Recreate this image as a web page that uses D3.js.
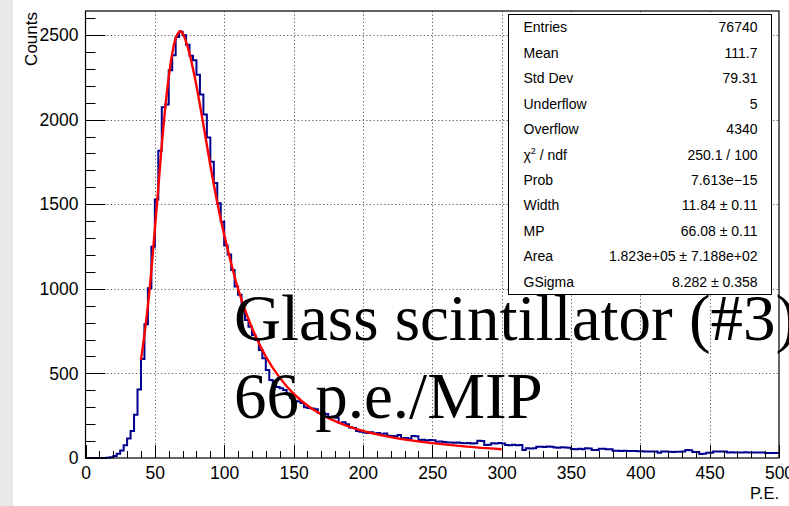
<!DOCTYPE html>
<html><head><meta charset="utf-8">
<script src="https://cdn.jsdelivr.net/npm/d3@7/dist/d3.min.js"></script>
<style>body{margin:0;background:#fff;overflow:hidden}</style>
</head><body>
<svg id="c" width="789" height="506"></svg>
<script>
// ---------- data ----------
const binWidth = 2.5;
const xDomain = [0, 500];
const counts = [
  0,0,0,0,0,0,2,5,12,25,
  45,75,115,160,255,405,585,790,1004,1249,
  1528,1816,2073,2090,2292,2381,2489,2519,2499,2442,
  2378,2351,2265,2149,2030,1895,1751,1625,1505,1397,
  1256,1203,1111,1013,965,875,816,776,727,697,
  638,589,520,461,440,420,412,402,380,355,
  333,335,325,300,296,292,288,266,268,260,
  242,245,238,207,212,200,180,177,160,155,
  150,148,152,145,148,140,145,132,130,128,
  136,116,118,114,130,128,106,108,104,107,
  105,96,97,95,92,91,90,92,89,87,
  88,86,87,102,101,77,78,87,86,88,
  86,77,76,78,75,77,47,57,56,58,
  66,67,65,68,66,62,61,63,62,60,
  53,52,54,51,57,56,47,48,55,55,
  51,51,43,43,42,43,42,41,41,40,
  40,39,39,38,39,31,38,39,37,36,
  37,37,38,47,46,35,35,24,25,31,
  31,39,38,39,38,33,34,33,33,33,
  34,33,33,33,32,33,30,30,29,30
];
const fitX = [40,42.5,45,47.5,50,52.5,55,57.5,60,62.5,65,67.5,68.5,70,72.5,75,77.5,80,85,90,95,100,110,120,130,140,150,160,170,180,190,200,225,250,275,300];
const fitY = [580,730,900,1110,1350,1600,1850,2070,2250,2390,2480,2518,2522,2510,2460,2390,2300,2200,1970,1730,1510,1320,1000,770,600,475,380,310,258,218,186,160,116,88,67,52];
const xTicks = [0,50,100,150,200,250,300,350,400,450,500];
const yTicks = [0,500,1000,1500,2000,2500];
const statLabels = ["Entries","Mean","Std Dev","Underflow","Overflow","χ2 / ndf","Prob","Width","MP","Area","GSigma"];
const statValues = ["76740","111.7","79.31","5","4340","250.1 / 100","7.613e\u221215","11.84 \u00b1 0.11","66.08 \u00b1 0.11","1.823e+05 \u00b1 7.188e+02","8.282 \u00b1 0.358"];
const xTitle = "P.E.";
const yTitle = "Counts";
const noteLines = ["Glass scintillator (#3)", "66 p.e./MIP"];

// ---------- drawing ----------
const svg = d3.select("#c");
const W = 789, H = 506;
const F = {l: 85.5, r: 779, t: 11, b: 458};
const sans = "'Liberation Sans', Arial, Helvetica, sans-serif";
const serif = "'Liberation Serif', 'Times New Roman', Times, serif";

svg.append("rect").attr("x",0).attr("y",0).attr("width",W).attr("height",H).attr("fill","#fff");
svg.append("rect").attr("x",0).attr("y",0).attr("width",13).attr("height",H).attr("fill","#e8e8e8");

const x = d3.scaleLinear().domain(xDomain).range([F.l, F.r]);
const y = d3.scaleLinear().domain([0, 2642]).range([F.b, F.t]);

// grid
const grid = svg.append("g").attr("stroke","#555").attr("stroke-width",1).attr("stroke-dasharray","1.2,2.4");
xTicks.filter(t => t>0 && t<500).forEach(t => {
  grid.append("line").attr("x1",Math.round(x(t))+0.5).attr("x2",Math.round(x(t))+0.5).attr("y1",F.t).attr("y2",F.b);
});
yTicks.filter(t => t>0).forEach(t => {
  grid.append("line").attr("y1",Math.round(y(t))+0.5).attr("y2",Math.round(y(t))+0.5).attr("x1",F.l).attr("x2",F.r);
});

// histogram
const pts = counts.map((c,i) => [i*binWidth, c]);
pts.push([counts.length*binWidth, counts[counts.length-1]]);
const hline = d3.line().x(d => x(d[0])).y(d => y(d[1])).curve(d3.curveStepAfter);
svg.append("path").attr("d", hline(pts)).attr("fill","none").attr("stroke","#00008f").attr("stroke-width",2);

// fit
const fpts = fitX.map((v,i) => [v, fitY[i]]);
const fline = d3.line().x(d => x(d[0])).y(d => y(d[1])).curve(d3.curveCatmullRom);
svg.append("path").attr("d", fline(fpts)).attr("fill","none").attr("stroke","#ff0000").attr("stroke-width",2.4);

// axes with ticks inside
const xMinor = d3.range(0, 501, 10);
const yMinor = d3.range(0, 2601, 100);
const ax = svg.append("g").attr("stroke","#000").attr("stroke-width",1);
xMinor.forEach(t => {
  const major = t % 50 === 0;
  const xx = Math.round(x(t))+0.5;
  ax.append("line").attr("x1",xx).attr("x2",xx).attr("y1",F.b).attr("y2",F.b - (major?13:7));
});
yMinor.forEach(t => {
  const major = t % 500 === 0;
  const yy = Math.round(y(t))+0.5;
  ax.append("line").attr("y1",yy).attr("y2",yy).attr("x1",F.l).attr("x2",F.l + (major?20:10));
});
svg.append("rect").attr("x",F.l).attr("y",F.t).attr("width",F.r-F.l).attr("height",F.b-F.t)
  .attr("fill","none").attr("stroke","#000").attr("stroke-width",1.2);

// axes via d3 for labels
const xAxis = d3.axisBottom(x).tickValues(xTicks).tickSize(0).tickPadding(9).tickFormat(d3.format("d"));
const gx = svg.append("g").attr("transform",`translate(0,${F.b})`).call(xAxis);
gx.select(".domain").remove();
gx.selectAll("text").attr("font-family",sans).attr("font-size",17.5).attr("fill","#000");
const yAxis = d3.axisLeft(y).tickValues(yTicks).tickSize(0).tickPadding(7).tickFormat(d3.format("d"));
const gy = svg.append("g").attr("transform",`translate(${F.l},0)`).call(yAxis);
gy.select(".domain").remove();
gy.selectAll("text").attr("font-family",sans).attr("font-size",17.5).attr("fill","#000");

svg.append("text").attr("x",F.r).attr("y",499).attr("text-anchor","end")
  .attr("font-family",sans).attr("font-size",16.5).text(xTitle);
svg.append("text").attr("transform",`translate(37,${F.t+1}) rotate(-90)`).attr("text-anchor","end")
  .attr("font-family",sans).attr("font-size",17).text(yTitle);

// stats box
const B = {l: 508.5, r: 771.5, t: 14.5, b: 294.5};
svg.append("rect").attr("x",B.l).attr("y",B.t).attr("width",B.r-B.l).attr("height",B.b-B.t)
  .attr("fill","#fff").attr("stroke","#000").attr("stroke-width",1);
const rowH = (B.b - B.t)/statLabels.length;
statLabels.forEach((lab,i) => {
  const yy = B.t + rowH*(i+0.5) + 5;
  const t = svg.append("text").attr("x",B.l+15).attr("y",yy).attr("font-family",sans).attr("font-size",14);
  if (lab.startsWith("χ2")) {
    t.append("tspan").text("χ");
    t.append("tspan").attr("font-size",9).attr("dy",-6).text("2");
    t.append("tspan").attr("dy",6).text(" / ndf");
  } else t.text(lab);
  svg.append("text").attr("x",B.r-14).attr("y",yy).attr("text-anchor","end")
    .attr("font-family",sans).attr("font-size",14).text(statValues[i]);
});

// big annotation
svg.append("text").attr("x",234).attr("y",340).attr("font-family",serif).attr("font-size",65).text(noteLines[0]);
svg.append("text").attr("x",234).attr("y",418).attr("font-family",serif).attr("font-size",65).text(noteLines[1]);
</script>
</body></html>
